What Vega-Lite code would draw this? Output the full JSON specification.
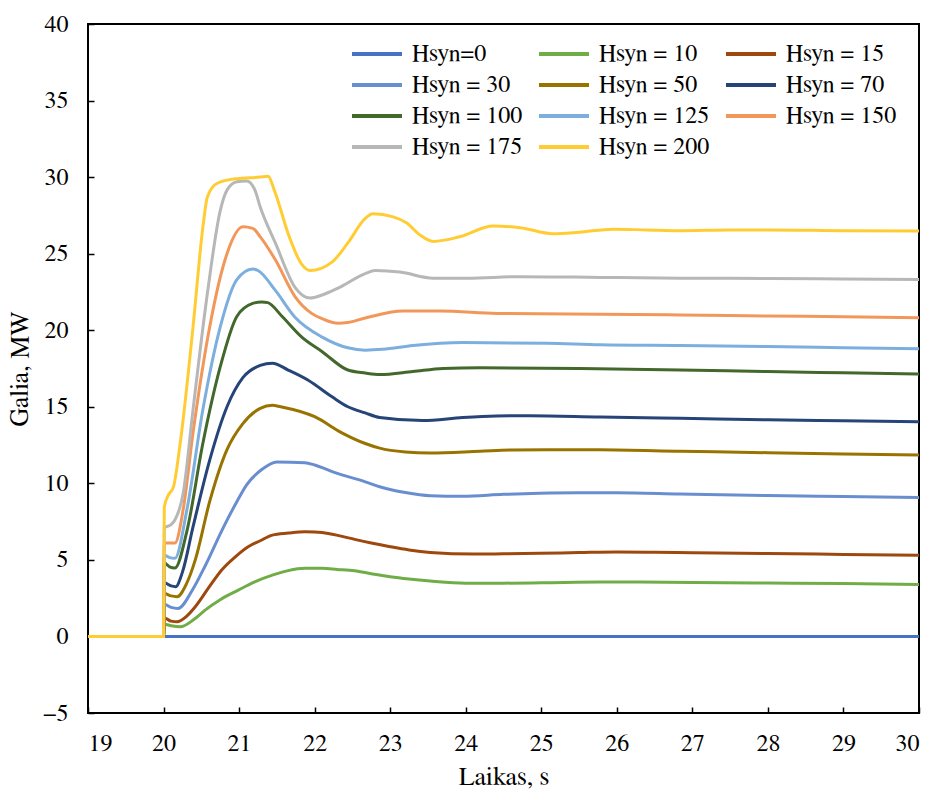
{
  "$schema": "https://vega.github.io/schema/vega-lite/v6.json",
  "width": 831,
  "height": 689,
  "autosize": {"type": "none"},
  "padding": {"left": 88, "top": 24, "right": 14, "bottom": 76},
  "background": "white",
  "datasets": {
    "curves": [
      {"s": "Hsyn=0", "t": 19, "v": 0}, {"s": "Hsyn=0", "t": 30, "v": 0},

      {"s": "Hsyn = 10", "t": 19, "v": 0}, {"s": "Hsyn = 10", "t": 20, "v": 0}, {"s": "Hsyn = 10", "t": 20.01, "v": 0.8}, {"s": "Hsyn = 10", "t": 20.1, "v": 0.7}, {"s": "Hsyn = 10", "t": 20.22, "v": 0.63}, {"s": "Hsyn = 10", "t": 20.4, "v": 1.1}, {"s": "Hsyn = 10", "t": 20.55, "v": 1.72}, {"s": "Hsyn = 10", "t": 20.75, "v": 2.4}, {"s": "Hsyn = 10", "t": 20.99, "v": 3.03}, {"s": "Hsyn = 10", "t": 21.2, "v": 3.55}, {"s": "Hsyn = 10", "t": 21.44, "v": 4.0}, {"s": "Hsyn = 10", "t": 21.65, "v": 4.3}, {"s": "Hsyn = 10", "t": 21.87, "v": 4.45}, {"s": "Hsyn = 10", "t": 22.1, "v": 4.45}, {"s": "Hsyn = 10", "t": 22.3, "v": 4.38}, {"s": "Hsyn = 10", "t": 22.53, "v": 4.29}, {"s": "Hsyn = 10", "t": 22.75, "v": 4.1}, {"s": "Hsyn = 10", "t": 23.0, "v": 3.9}, {"s": "Hsyn = 10", "t": 23.25, "v": 3.75}, {"s": "Hsyn = 10", "t": 23.53, "v": 3.62}, {"s": "Hsyn = 10", "t": 24.0, "v": 3.48}, {"s": "Hsyn = 10", "t": 24.5, "v": 3.48}, {"s": "Hsyn = 10", "t": 25.0, "v": 3.5}, {"s": "Hsyn = 10", "t": 25.78, "v": 3.55}, {"s": "Hsyn = 10", "t": 26.3, "v": 3.55}, {"s": "Hsyn = 10", "t": 27, "v": 3.53}, {"s": "Hsyn = 10", "t": 28, "v": 3.49}, {"s": "Hsyn = 10", "t": 29, "v": 3.45}, {"s": "Hsyn = 10", "t": 30, "v": 3.4},

      {"s": "Hsyn = 15", "t": 19, "v": 0}, {"s": "Hsyn = 15", "t": 20, "v": 0}, {"s": "Hsyn = 15", "t": 20.01, "v": 1.2}, {"s": "Hsyn = 15", "t": 20.1, "v": 1.0}, {"s": "Hsyn = 15", "t": 20.18, "v": 0.96}, {"s": "Hsyn = 15", "t": 20.3, "v": 1.3}, {"s": "Hsyn = 15", "t": 20.42, "v": 1.94}, {"s": "Hsyn = 15", "t": 20.6, "v": 3.2}, {"s": "Hsyn = 15", "t": 20.77, "v": 4.34}, {"s": "Hsyn = 15", "t": 20.95, "v": 5.2}, {"s": "Hsyn = 15", "t": 21.12, "v": 5.86}, {"s": "Hsyn = 15", "t": 21.28, "v": 6.25}, {"s": "Hsyn = 15", "t": 21.44, "v": 6.62}, {"s": "Hsyn = 15", "t": 21.65, "v": 6.75}, {"s": "Hsyn = 15", "t": 21.87, "v": 6.84}, {"s": "Hsyn = 15", "t": 22.0, "v": 6.82}, {"s": "Hsyn = 15", "t": 22.18, "v": 6.73}, {"s": "Hsyn = 15", "t": 22.35, "v": 6.55}, {"s": "Hsyn = 15", "t": 22.53, "v": 6.34}, {"s": "Hsyn = 15", "t": 22.75, "v": 6.1}, {"s": "Hsyn = 15", "t": 23.0, "v": 5.86}, {"s": "Hsyn = 15", "t": 23.25, "v": 5.65}, {"s": "Hsyn = 15", "t": 23.53, "v": 5.49}, {"s": "Hsyn = 15", "t": 24.1, "v": 5.38}, {"s": "Hsyn = 15", "t": 24.5, "v": 5.4}, {"s": "Hsyn = 15", "t": 24.98, "v": 5.43}, {"s": "Hsyn = 15", "t": 25.5, "v": 5.48}, {"s": "Hsyn = 15", "t": 26.0, "v": 5.52}, {"s": "Hsyn = 15", "t": 26.5, "v": 5.5}, {"s": "Hsyn = 15", "t": 27, "v": 5.47}, {"s": "Hsyn = 15", "t": 28, "v": 5.42}, {"s": "Hsyn = 15", "t": 29, "v": 5.36}, {"s": "Hsyn = 15", "t": 30, "v": 5.3},

      {"s": "Hsyn = 30", "t": 19, "v": 0}, {"s": "Hsyn = 30", "t": 20, "v": 0}, {"s": "Hsyn = 30", "t": 20.01, "v": 2.1}, {"s": "Hsyn = 30", "t": 20.1, "v": 1.9}, {"s": "Hsyn = 30", "t": 20.19, "v": 1.83}, {"s": "Hsyn = 30", "t": 20.39, "v": 3.1}, {"s": "Hsyn = 30", "t": 20.55, "v": 4.6}, {"s": "Hsyn = 30", "t": 20.77, "v": 6.9}, {"s": "Hsyn = 30", "t": 20.97, "v": 8.8}, {"s": "Hsyn = 30", "t": 21.1, "v": 9.9}, {"s": "Hsyn = 30", "t": 21.3, "v": 10.9}, {"s": "Hsyn = 30", "t": 21.5, "v": 11.4}, {"s": "Hsyn = 30", "t": 21.87, "v": 11.35}, {"s": "Hsyn = 30", "t": 22.0, "v": 11.2}, {"s": "Hsyn = 30", "t": 22.27, "v": 10.7}, {"s": "Hsyn = 30", "t": 22.67, "v": 10.1}, {"s": "Hsyn = 30", "t": 22.86, "v": 9.78}, {"s": "Hsyn = 30", "t": 23.2, "v": 9.4}, {"s": "Hsyn = 30", "t": 23.53, "v": 9.19}, {"s": "Hsyn = 30", "t": 23.96, "v": 9.15}, {"s": "Hsyn = 30", "t": 24.5, "v": 9.28}, {"s": "Hsyn = 30", "t": 24.98, "v": 9.35}, {"s": "Hsyn = 30", "t": 25.5, "v": 9.38}, {"s": "Hsyn = 30", "t": 26.0, "v": 9.38}, {"s": "Hsyn = 30", "t": 26.84, "v": 9.3}, {"s": "Hsyn = 30", "t": 28, "v": 9.2}, {"s": "Hsyn = 30", "t": 29, "v": 9.14}, {"s": "Hsyn = 30", "t": 30, "v": 9.08},

      {"s": "Hsyn = 50", "t": 19, "v": 0}, {"s": "Hsyn = 50", "t": 20, "v": 0}, {"s": "Hsyn = 50", "t": 20.01, "v": 2.8}, {"s": "Hsyn = 50", "t": 20.1, "v": 2.65}, {"s": "Hsyn = 50", "t": 20.18, "v": 2.6}, {"s": "Hsyn = 50", "t": 20.3, "v": 3.4}, {"s": "Hsyn = 50", "t": 20.42, "v": 5.0}, {"s": "Hsyn = 50", "t": 20.61, "v": 8.8}, {"s": "Hsyn = 50", "t": 20.84, "v": 12.2}, {"s": "Hsyn = 50", "t": 21.05, "v": 13.9}, {"s": "Hsyn = 50", "t": 21.28, "v": 14.9}, {"s": "Hsyn = 50", "t": 21.44, "v": 15.1}, {"s": "Hsyn = 50", "t": 21.55, "v": 15.0}, {"s": "Hsyn = 50", "t": 22.0, "v": 14.35}, {"s": "Hsyn = 50", "t": 22.36, "v": 13.3}, {"s": "Hsyn = 50", "t": 22.67, "v": 12.6}, {"s": "Hsyn = 50", "t": 22.86, "v": 12.3}, {"s": "Hsyn = 50", "t": 23.2, "v": 12.05}, {"s": "Hsyn = 50", "t": 23.53, "v": 11.98}, {"s": "Hsyn = 50", "t": 24.19, "v": 12.1}, {"s": "Hsyn = 50", "t": 24.6, "v": 12.18}, {"s": "Hsyn = 50", "t": 25.08, "v": 12.2}, {"s": "Hsyn = 50", "t": 25.78, "v": 12.19}, {"s": "Hsyn = 50", "t": 26.84, "v": 12.1}, {"s": "Hsyn = 50", "t": 28, "v": 12.0}, {"s": "Hsyn = 50", "t": 29, "v": 11.92}, {"s": "Hsyn = 50", "t": 30, "v": 11.85},

      {"s": "Hsyn = 70", "t": 19, "v": 0}, {"s": "Hsyn = 70", "t": 20, "v": 0}, {"s": "Hsyn = 70", "t": 20.01, "v": 3.5}, {"s": "Hsyn = 70", "t": 20.1, "v": 3.3}, {"s": "Hsyn = 70", "t": 20.16, "v": 3.25}, {"s": "Hsyn = 70", "t": 20.25, "v": 4.2}, {"s": "Hsyn = 70", "t": 20.39, "v": 7.15}, {"s": "Hsyn = 70", "t": 20.61, "v": 11.5}, {"s": "Hsyn = 70", "t": 20.84, "v": 15.0}, {"s": "Hsyn = 70", "t": 21.05, "v": 16.9}, {"s": "Hsyn = 70", "t": 21.28, "v": 17.7}, {"s": "Hsyn = 70", "t": 21.44, "v": 17.85}, {"s": "Hsyn = 70", "t": 21.65, "v": 17.4}, {"s": "Hsyn = 70", "t": 21.91, "v": 16.75}, {"s": "Hsyn = 70", "t": 22.23, "v": 15.65}, {"s": "Hsyn = 70", "t": 22.44, "v": 15.0}, {"s": "Hsyn = 70", "t": 22.67, "v": 14.6}, {"s": "Hsyn = 70", "t": 22.86, "v": 14.3}, {"s": "Hsyn = 70", "t": 23.43, "v": 14.1}, {"s": "Hsyn = 70", "t": 23.96, "v": 14.3}, {"s": "Hsyn = 70", "t": 24.4, "v": 14.4}, {"s": "Hsyn = 70", "t": 24.85, "v": 14.42}, {"s": "Hsyn = 70", "t": 25.78, "v": 14.33}, {"s": "Hsyn = 70", "t": 26.84, "v": 14.25}, {"s": "Hsyn = 70", "t": 28, "v": 14.15}, {"s": "Hsyn = 70", "t": 29, "v": 14.09}, {"s": "Hsyn = 70", "t": 30, "v": 14.03},

      {"s": "Hsyn = 100", "t": 19, "v": 0}, {"s": "Hsyn = 100", "t": 20, "v": 0}, {"s": "Hsyn = 100", "t": 20.01, "v": 4.8}, {"s": "Hsyn = 100", "t": 20.08, "v": 4.55}, {"s": "Hsyn = 100", "t": 20.15, "v": 4.47}, {"s": "Hsyn = 100", "t": 20.31, "v": 6.9}, {"s": "Hsyn = 100", "t": 20.52, "v": 12.6}, {"s": "Hsyn = 100", "t": 20.75, "v": 17.6}, {"s": "Hsyn = 100", "t": 20.97, "v": 20.9}, {"s": "Hsyn = 100", "t": 21.18, "v": 21.75}, {"s": "Hsyn = 100", "t": 21.3, "v": 21.85}, {"s": "Hsyn = 100", "t": 21.38, "v": 21.8}, {"s": "Hsyn = 100", "t": 21.57, "v": 20.9}, {"s": "Hsyn = 100", "t": 21.83, "v": 19.55}, {"s": "Hsyn = 100", "t": 22.1, "v": 18.6}, {"s": "Hsyn = 100", "t": 22.44, "v": 17.4}, {"s": "Hsyn = 100", "t": 22.67, "v": 17.2}, {"s": "Hsyn = 100", "t": 22.86, "v": 17.1}, {"s": "Hsyn = 100", "t": 23.3, "v": 17.3}, {"s": "Hsyn = 100", "t": 23.7, "v": 17.5}, {"s": "Hsyn = 100", "t": 24.19, "v": 17.55}, {"s": "Hsyn = 100", "t": 25.51, "v": 17.5}, {"s": "Hsyn = 100", "t": 26.84, "v": 17.4}, {"s": "Hsyn = 100", "t": 28, "v": 17.3}, {"s": "Hsyn = 100", "t": 29, "v": 17.22}, {"s": "Hsyn = 100", "t": 30, "v": 17.14},

      {"s": "Hsyn = 125", "t": 19, "v": 0}, {"s": "Hsyn = 125", "t": 20, "v": 0}, {"s": "Hsyn = 125", "t": 20.01, "v": 5.3}, {"s": "Hsyn = 125", "t": 20.08, "v": 5.15}, {"s": "Hsyn = 125", "t": 20.15, "v": 5.1}, {"s": "Hsyn = 125", "t": 20.31, "v": 8.3}, {"s": "Hsyn = 125", "t": 20.52, "v": 14.8}, {"s": "Hsyn = 125", "t": 20.75, "v": 20.2}, {"s": "Hsyn = 125", "t": 20.97, "v": 23.3}, {"s": "Hsyn = 125", "t": 21.18, "v": 24.0}, {"s": "Hsyn = 125", "t": 21.25, "v": 23.9}, {"s": "Hsyn = 125", "t": 21.48, "v": 22.6}, {"s": "Hsyn = 125", "t": 21.74, "v": 20.85}, {"s": "Hsyn = 125", "t": 22.1, "v": 19.55}, {"s": "Hsyn = 125", "t": 22.44, "v": 18.85}, {"s": "Hsyn = 125", "t": 22.67, "v": 18.7}, {"s": "Hsyn = 125", "t": 22.9, "v": 18.75}, {"s": "Hsyn = 125", "t": 23.3, "v": 19.0}, {"s": "Hsyn = 125", "t": 23.96, "v": 19.2}, {"s": "Hsyn = 125", "t": 25.08, "v": 19.15}, {"s": "Hsyn = 125", "t": 25.78, "v": 19.05}, {"s": "Hsyn = 125", "t": 26.84, "v": 19.0}, {"s": "Hsyn = 125", "t": 28, "v": 18.93}, {"s": "Hsyn = 125", "t": 29, "v": 18.86}, {"s": "Hsyn = 125", "t": 30, "v": 18.79},

      {"s": "Hsyn = 150", "t": 19, "v": 0}, {"s": "Hsyn = 150", "t": 20, "v": 0}, {"s": "Hsyn = 150", "t": 20.01, "v": 6.1}, {"s": "Hsyn = 150", "t": 20.15, "v": 6.1}, {"s": "Hsyn = 150", "t": 20.26, "v": 8.3}, {"s": "Hsyn = 150", "t": 20.39, "v": 13.3}, {"s": "Hsyn = 150", "t": 20.61, "v": 20.2}, {"s": "Hsyn = 150", "t": 20.84, "v": 25.0}, {"s": "Hsyn = 150", "t": 21.05, "v": 26.75}, {"s": "Hsyn = 150", "t": 21.18, "v": 26.65}, {"s": "Hsyn = 150", "t": 21.28, "v": 26.1}, {"s": "Hsyn = 150", "t": 21.48, "v": 24.6}, {"s": "Hsyn = 150", "t": 21.74, "v": 22.2}, {"s": "Hsyn = 150", "t": 21.96, "v": 21.1}, {"s": "Hsyn = 150", "t": 22.1, "v": 20.75}, {"s": "Hsyn = 150", "t": 22.31, "v": 20.45}, {"s": "Hsyn = 150", "t": 22.44, "v": 20.5}, {"s": "Hsyn = 150", "t": 22.67, "v": 20.8}, {"s": "Hsyn = 150", "t": 23.17, "v": 21.25}, {"s": "Hsyn = 150", "t": 23.66, "v": 21.25}, {"s": "Hsyn = 150", "t": 24.41, "v": 21.1}, {"s": "Hsyn = 150", "t": 25.78, "v": 21.04}, {"s": "Hsyn = 150", "t": 26.84, "v": 21.0}, {"s": "Hsyn = 150", "t": 28, "v": 20.93}, {"s": "Hsyn = 150", "t": 29, "v": 20.88}, {"s": "Hsyn = 150", "t": 30, "v": 20.82},

      {"s": "Hsyn = 175", "t": 19, "v": 0}, {"s": "Hsyn = 175", "t": 20, "v": 0}, {"s": "Hsyn = 175", "t": 20.01, "v": 7.1}, {"s": "Hsyn = 175", "t": 20.1, "v": 7.3}, {"s": "Hsyn = 175", "t": 20.15, "v": 7.6}, {"s": "Hsyn = 175", "t": 20.26, "v": 9.35}, {"s": "Hsyn = 175", "t": 20.39, "v": 14.8}, {"s": "Hsyn = 175", "t": 20.58, "v": 22.4}, {"s": "Hsyn = 175", "t": 20.75, "v": 27.8}, {"s": "Hsyn = 175", "t": 20.84, "v": 29.15}, {"s": "Hsyn = 175", "t": 20.97, "v": 29.7}, {"s": "Hsyn = 175", "t": 21.1, "v": 29.75}, {"s": "Hsyn = 175", "t": 21.21, "v": 29.15}, {"s": "Hsyn = 175", "t": 21.28, "v": 28.05}, {"s": "Hsyn = 175", "t": 21.48, "v": 25.7}, {"s": "Hsyn = 175", "t": 21.74, "v": 22.8}, {"s": "Hsyn = 175", "t": 21.94, "v": 22.1}, {"s": "Hsyn = 175", "t": 22.1, "v": 22.3}, {"s": "Hsyn = 175", "t": 22.31, "v": 22.75}, {"s": "Hsyn = 175", "t": 22.67, "v": 23.7}, {"s": "Hsyn = 175", "t": 22.8, "v": 23.9}, {"s": "Hsyn = 175", "t": 23.13, "v": 23.8}, {"s": "Hsyn = 175", "t": 23.57, "v": 23.4}, {"s": "Hsyn = 175", "t": 24.02, "v": 23.4}, {"s": "Hsyn = 175", "t": 24.72, "v": 23.5}, {"s": "Hsyn = 175", "t": 25.78, "v": 23.45}, {"s": "Hsyn = 175", "t": 26.84, "v": 23.4}, {"s": "Hsyn = 175", "t": 28, "v": 23.38}, {"s": "Hsyn = 175", "t": 29, "v": 23.35}, {"s": "Hsyn = 175", "t": 30, "v": 23.32},

      {"s": "Hsyn = 200", "t": 19, "v": 0}, {"s": "Hsyn = 200", "t": 20, "v": 0}, {"s": "Hsyn = 200", "t": 20.01, "v": 8.45}, {"s": "Hsyn = 200", "t": 20.06, "v": 9.2}, {"s": "Hsyn = 200", "t": 20.13, "v": 9.75}, {"s": "Hsyn = 200", "t": 20.22, "v": 12.6}, {"s": "Hsyn = 200", "t": 20.39, "v": 20.2}, {"s": "Hsyn = 200", "t": 20.52, "v": 26.7}, {"s": "Hsyn = 200", "t": 20.58, "v": 28.7}, {"s": "Hsyn = 200", "t": 20.71, "v": 29.6}, {"s": "Hsyn = 200", "t": 20.97, "v": 29.9}, {"s": "Hsyn = 200", "t": 21.28, "v": 30.0}, {"s": "Hsyn = 200", "t": 21.38, "v": 30.05}, {"s": "Hsyn = 200", "t": 21.48, "v": 28.95}, {"s": "Hsyn = 200", "t": 21.65, "v": 26.3}, {"s": "Hsyn = 200", "t": 21.83, "v": 24.3}, {"s": "Hsyn = 200", "t": 21.94, "v": 23.9}, {"s": "Hsyn = 200", "t": 22.23, "v": 24.45}, {"s": "Hsyn = 200", "t": 22.44, "v": 25.7}, {"s": "Hsyn = 200", "t": 22.67, "v": 27.3}, {"s": "Hsyn = 200", "t": 22.77, "v": 27.6}, {"s": "Hsyn = 200", "t": 23.04, "v": 27.4}, {"s": "Hsyn = 200", "t": 23.22, "v": 27.0}, {"s": "Hsyn = 200", "t": 23.4, "v": 26.2}, {"s": "Hsyn = 200", "t": 23.57, "v": 25.8}, {"s": "Hsyn = 200", "t": 23.92, "v": 26.1}, {"s": "Hsyn = 200", "t": 24.36, "v": 26.8}, {"s": "Hsyn = 200", "t": 24.72, "v": 26.7}, {"s": "Hsyn = 200", "t": 25.15, "v": 26.3}, {"s": "Hsyn = 200", "t": 25.5, "v": 26.4}, {"s": "Hsyn = 200", "t": 25.95, "v": 26.6}, {"s": "Hsyn = 200", "t": 26.4, "v": 26.55}, {"s": "Hsyn = 200", "t": 26.84, "v": 26.5}, {"s": "Hsyn = 200", "t": 27.5, "v": 26.55}, {"s": "Hsyn = 200", "t": 28, "v": 26.55}, {"s": "Hsyn = 200", "t": 29, "v": 26.5}, {"s": "Hsyn = 200", "t": 30, "v": 26.48}
    ]
  },
  "data": {"name": "curves"},
  "mark": {"type": "line", "interpolate": "monotone", "strokeWidth": 3, "clip": true},
  "encoding": {
    "x": {
      "field": "t", "type": "quantitative",
      "scale": {"domain": [19, 30], "nice": false, "zero": false},
      "axis": {"values": [19, 20, 21, 22, 23, 24, 25, 26, 27, 28, 29, 30], "title": "Laikas, s", "labelPadding": 24, "titlePadding": 8}
    },
    "y": {
      "field": "v", "type": "quantitative",
      "scale": {"domain": [-5, 40], "nice": false, "zero": false},
      "axis": {"values": [-5, 0, 5, 10, 15, 20, 25, 30, 35, 40], "title": "Galia, MW", "labelPadding": 26, "titlePadding": 10}
    },
    "color": {
      "field": "s", "type": "nominal",
      "scale": {
        "domain": ["Hsyn=0", "Hsyn = 10", "Hsyn = 15", "Hsyn = 30", "Hsyn = 50", "Hsyn = 70", "Hsyn = 100", "Hsyn = 125", "Hsyn = 150", "Hsyn = 175", "Hsyn = 200"],
        "range": ["#4472C4", "#70AD47", "#9E480E", "#698ED0", "#997300", "#264478", "#43682B", "#7CAFDD", "#F1975A", "#B7B7B7", "#FFCD33"]
      },
      "legend": {
        "orient": "none", "legendX": 262, "legendY": 18, "columns": 3, "direction": "horizontal", "title": null,
        "symbolType": "stroke", "symbolSize": 2500, "symbolStrokeWidth": 4,
        "labelFontSize": 24, "labelOffset": 8, "columnPadding": 14, "rowPadding": 7, "clipHeight": 24,
        "padding": 0, "labelLimit": 300
      }
    }
  },
  "config": {
    "font": "FreeSerif",
    "view": {"stroke": "black", "strokeWidth": 2},
    "axis": {
      "domain": false, "grid": false,
      "tickSize": -6, "tickColor": "black", "tickWidth": 1.5,
      "labelFont": "FreeSerif", "labelFontSize": 24, "labelColor": "black",
      "titleFont": "FreeSerif", "titleFontSize": 26, "titleFontWeight": "normal", "titleColor": "black"
    },
    "legend": {"labelFont": "FreeSerif", "labelColor": "black"}
  }
}
